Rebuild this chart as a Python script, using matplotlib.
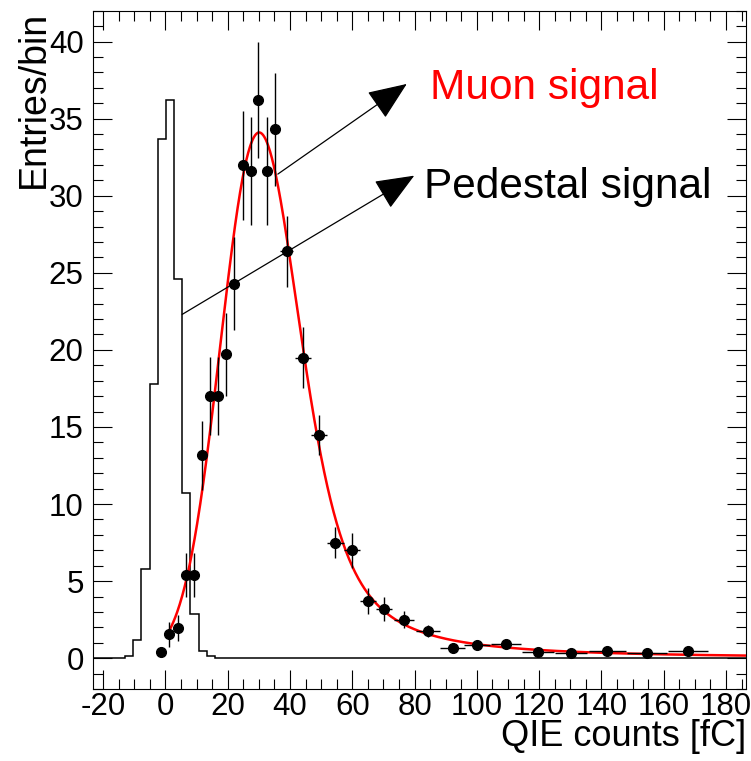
import numpy as np
import matplotlib
matplotlib.use("Agg")
import matplotlib.pyplot as plt
from matplotlib.ticker import MultipleLocator

# ---------------------------------------------------------------- data
# pedestal histogram: bin edges [fC] and entries per bin
ped_edges = [-12.9, -10.28, -7.66, -5.04, -2.42, 0.2, 2.82, 5.44, 8.06,
             10.68, 13.3, 15.92]
ped_counts = [0.17, 1.19, 5.76, 17.8, 33.7, 36.2, 24.6, 10.7, 2.85, 0.45, 0.12]

# muon signal: bin centres, half bin widths, entries/bin and errors
muon_x = [-1.4, 1.25, 3.95, 6.5, 9.2, 11.85, 14.3, 17.0, 19.45, 22.1, 24.8,
          27.4, 29.8, 32.5, 35.2, 38.9, 44.3, 49.4, 54.6, 59.8, 65.0, 70.3,
          76.7, 84.4, 92.2, 100.1, 109.3, 119.7, 130.1, 141.9, 154.7, 167.8]
muon_xerr = [1.31, 1.31, 1.31, 1.31, 1.31, 1.31, 1.31, 1.31, 1.31, 1.31,
             1.31, 1.31, 1.31, 1.31, 1.31, 2.2, 2.6, 2.6, 2.6, 2.6, 2.6, 2.6,
             3.2, 3.9, 3.9, 4.2, 4.9, 5.1, 5.1, 5.9, 6.4, 6.5]
muon_y = [0.43, 1.55, 1.95, 5.4, 5.4, 13.15, 17.0, 17.0, 19.7, 24.3, 31.97,
          31.6, 36.2, 31.6, 34.3, 26.4, 19.5, 14.5, 7.5, 7.0, 3.7, 3.2, 2.5,
          1.75, 0.69, 0.84, 0.95, 0.43, 0.34, 0.47, 0.32, 0.49]
muon_yerr = [0.3, 0.8, 0.85, 1.4, 1.4, 2.25, 2.55, 2.55, 2.7, 3.0, 3.55, 3.5,
             3.75, 3.5, 3.65, 2.3, 1.95, 1.3, 1.0, 1.15, 0.85, 0.8, 0.55, 0.4,
             0.25, 0.25, 0.25, 0.15, 0.15, 0.15, 0.12, 0.15]

# Landau (x) Gauss fit to the muon signal
FIT_X_MIN, FIT_X_MAX = 1.3, 186.4
FIT_PEAK_X, FIT_PEAK_Y = 30.2, 34.1
LANDAU_WIDTH = 3.0      # Landau scale [fC]
GAUSS_SIGMA = 10.6      # Gaussian smearing [fC]

X_LIMITS = (-23.1, 186.4)
Y_LIMITS = (-2.0, 42.0)

# ---------------------------------------------------------------- fit curve
def landau_pdf(lam):
    """Standard Landau density, stable (alpha=1, beta=1) integral form."""
    c = np.pi / 2.0
    t = np.linspace(0.0, 40.0, 20001)
    dt = t[1] - t[0]
    tlog = (2.0 * t / np.pi) * np.log(np.where(t > 0, t / c, 1.0))
    damp = np.exp(-t)
    out = np.empty_like(lam)
    for idx in np.array_split(np.arange(lam.size), 20):
        phase = np.outer(lam[idx] / c, t) + tlog[None, :]
        f = damp[None, :] * np.cos(phase)
        out[idx] = (f.sum(axis=1) - 0.5 * (f[:, 0] + f[:, -1])) * dt
    return out / (np.pi * c)


du = 0.2
u = np.arange(-40.0, 260.0 + du, du)
landau = landau_pdf(u / LANDAU_WIDTH) / LANDAU_WIDTH
k = np.arange(-5 * GAUSS_SIGMA, 5 * GAUSS_SIGMA + du / 2, du)
gauss = np.exp(-0.5 * (k / GAUSS_SIGMA) ** 2)
shape = np.convolve(landau, gauss, mode="same")
fit_x = u + (FIT_PEAK_X - u[np.argmax(shape)])
fit_y = shape * FIT_PEAK_Y / shape.max()
keep = (fit_x >= FIT_X_MIN) & (fit_x <= FIT_X_MAX)
fit_x, fit_y = fit_x[keep], fit_y[keep]

# ---------------------------------------------------------------- figure
plt.rcParams["font.family"] = ["Liberation Sans", "DejaVu Sans"]
plt.rcParams["axes.unicode_minus"] = False
fig = plt.figure(figsize=(7.51, 7.61), dpi=100)
W, H = 751.0, 761.0
ax = fig.add_axes([93.4 / W, 1 - 689 / H, (746 - 93.4) / W, (689 - 10.7) / H])
ax.set_xlim(*X_LIMITS)
ax.set_ylim(*Y_LIMITS)

# pedestal histogram, drawn over the full axis range
edges = [X_LIMITS[0]] + ped_edges + [X_LIMITS[1]]
counts = [0.0] + ped_counts + [0.0]
ax.stairs(counts, edges, color="black", lw=1.1, baseline=None)

# fit curve and data points
ax.plot(fit_x, fit_y, color="red", lw=1.8, zorder=3)
ax.errorbar(muon_x, muon_y, xerr=muon_xerr, yerr=muon_yerr, fmt="o",
            color="black", ms=7, elinewidth=1.0, capsize=0, zorder=4)

# annotations
arrow_style = "-|>,head_length=1.7,head_width=0.7"
ax.annotate("", xy=(77.5, 37.25), xytext=(36.1, 31.4),
            arrowprops=dict(arrowstyle=arrow_style, mutation_scale=14.5,
                            color="black", lw=0.9, shrinkA=0, shrinkB=0))
ax.annotate("", xy=(79.9, 31.3), xytext=(5.4, 22.3),
            arrowprops=dict(arrowstyle=arrow_style, mutation_scale=14.5,
                            color="black", lw=0.9, shrinkA=0, shrinkB=0))
ax.text(85.0, 36.3, "Muon signal", color="red", fontsize=30.5,
        ha="left", va="baseline")
ax.text(83.0, 29.85, "Pedestal signal", color="black", fontsize=30.5,
        ha="left", va="baseline")

# axes styling
for sp in ax.spines.values():
    sp.set_linewidth(0.8)
ax.xaxis.set_major_locator(MultipleLocator(20))
ax.xaxis.set_minor_locator(MultipleLocator(5))
ax.yaxis.set_major_locator(MultipleLocator(5))
ax.yaxis.set_minor_locator(MultipleLocator(1))
ax.tick_params(which="both", direction="in", top=True, right=True,
               width=0.8, labelsize=22.5)
ax.tick_params(which="major", length=14)
ax.tick_params(which="minor", length=7)
ax.tick_params(axis="x", pad=2)
ax.tick_params(axis="y", pad=7)
for lab in ax.get_xticklabels() + ax.get_yticklabels():
    lab.set_family(["Liberation Sans Narrow", "Liberation Sans"])

ax.set_xlabel("QIE counts [fC]", fontsize=26, loc="right", va="baseline")
ax.xaxis.set_label_coords(1.0, (689 - 746) / (689 - 10.7))
ax.set_ylabel("Entries/bin", fontsize=27, loc="top")
ax.yaxis.set_label_coords((52 - 93.4) / (746 - 93.4), 1.0)

fig.savefig("out.png", dpi=100)
